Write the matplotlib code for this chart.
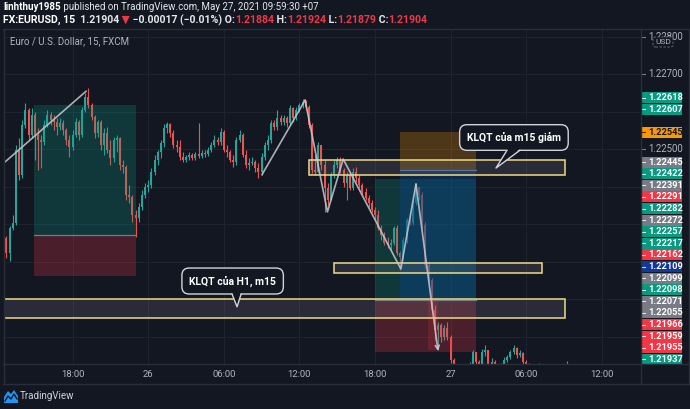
import numpy as np
import matplotlib.pyplot as plt
from matplotlib.patches import Rectangle, Polygon, FancyBboxPatch
from matplotlib.lines import Line2D
from matplotlib.transforms import blended_transform_factory

plt.rcParams['font.family'] = ['Liberation Sans Narrow', 'Roboto', 'DejaVu Sans']

# EURUSD 15 min candles, bar 0 = 18:00 on the 25th
# prices are in 1e-5 above 1.21000
first_open = 1263
closes = [1223, 1290, 1303, 1498, 1431, 1565, 1605, 1538, 1591, 1538,
          1525, 1519, 1565, 1591, 1578, 1573, 1559, 1570, 1551, 1525,
          1506, 1538, 1573, 1538, 1605, 1639, 1618, 1586, 1543, 1573,
          1511, 1543, 1498, 1477, 1525, 1530, 1458, 1453, 1378, 1373,
          1325, 1317, 1346, 1378, 1399, 1405, 1439, 1471, 1493, 1517,
          1557, 1567, 1543, 1511, 1506, 1479, 1471, 1479, 1485, 1477,
          1487, 1482, 1490, 1487, 1498, 1511, 1525, 1519, 1546, 1498,
          1493, 1471, 1466, 1525, 1538, 1485, 1458, 1463, 1466, 1450,
          1439, 1479, 1511, 1525, 1570, 1559, 1583, 1573, 1583, 1570,
          1610, 1583, 1605, 1618, 1626, 1613, 1565, 1445, 1439, 1511,
          1458, 1397, 1365, 1431, 1458, 1471, 1445, 1410, 1431, 1397,
          1439, 1423, 1405, 1386, 1370, 1357, 1338, 1325, 1290, 1271,
          1250, 1245, 1250, 1290, 1223, 1213, 1258, 1311, 1303, 1357,
          1399, 1378, 1298, 1191, 1151, 1071, 1018, 1031, 999, 1023,
          999, 938, 911, 898, 906, 895, 911, 925, 959, 933,
          922, 959, 965, 927, 933, 917, 917, 922, 938, 946,
          959, 970, 951, 957, 933, 925, 917, 911, 914, 909,
          906, 911, 903, 906, 909, 903, 911, 906, 901, 884,
          904]
highs = [1268, 1295, 1325, 1511, 1530, 1578, 1623, 1610, 1610, 1599,
         1557, 1538, 1578, 1605, 1599, 1591, 1583, 1583, 1578, 1557,
         1538, 1551, 1583, 1578, 1613, 1650, 1663, 1623, 1591, 1578,
         1578, 1557, 1559, 1525, 1533, 1538, 1533, 1471, 1458, 1405,
         1378, 1338, 1357, 1391, 1410, 1418, 1450, 1485, 1498, 1525,
         1567, 1573, 1570, 1551, 1525, 1525, 1493, 1485, 1493, 1490,
         1493, 1570, 1498, 1498, 1506, 1519, 1538, 1533, 1557, 1551,
         1511, 1498, 1485, 1533, 1551, 1543, 1498, 1477, 1479, 1471,
         1463, 1490, 1519, 1538, 1578, 1578, 1605, 1591, 1591, 1589,
         1618, 1613, 1613, 1623, 1634, 1631, 1618, 1570, 1485, 1519,
         1511, 1471, 1410, 1439, 1471, 1479, 1479, 1450, 1439, 1439,
         1450, 1453, 1431, 1410, 1397, 1378, 1365, 1346, 1338, 1298,
         1279, 1266, 1262, 1295, 1298, 1230, 1266, 1318, 1330, 1365,
         1410, 1399, 1386, 1306, 1202, 1157, 1085, 1039, 1037, 1031,
         1039, 1005, 943, 917, 911, 911, 919, 933, 965, 951,
         938, 967, 978, 965, 943, 938, 925, 930, 946, 951,
         965, 978, 973, 965, 959, 938, 930, 925, 922, 929,
         917, 917, 914, 911, 914, 911, 919, 914, 935, 906,
         924]
lows = [1210, 1202, 1285, 1298, 1418, 1423, 1557, 1525, 1530, 1471,
        1445, 1450, 1511, 1559, 1565, 1551, 1538, 1551, 1538, 1511,
        1479, 1498, 1533, 1525, 1533, 1599, 1610, 1578, 1530, 1533,
        1498, 1485, 1490, 1458, 1466, 1493, 1445, 1437, 1365, 1357,
        1306, 1266, 1306, 1338, 1370, 1386, 1397, 1431, 1458, 1477,
        1506, 1543, 1533, 1503, 1493, 1471, 1466, 1466, 1471, 1471,
        1471, 1477, 1477, 1479, 1482, 1493, 1506, 1511, 1511, 1493,
        1479, 1466, 1453, 1458, 1519, 1479, 1450, 1445, 1458, 1439,
        1423, 1431, 1471, 1498, 1517, 1551, 1551, 1565, 1565, 1559,
        1565, 1573, 1578, 1599, 1610, 1605, 1557, 1437, 1431, 1439,
        1445, 1333, 1351, 1365, 1423, 1450, 1437, 1399, 1365, 1391,
        1391, 1413, 1397, 1378, 1365, 1346, 1333, 1311, 1285, 1258,
        1245, 1237, 1231, 1245, 1218, 1178, 1205, 1250, 1298, 1298,
        1351, 1365, 1290, 1183, 1143, 1063, 991, 965, 986, 991,
        991, 930, 898, 885, 890, 885, 890, 906, 922, 922,
        911, 917, 949, 917, 919, 906, 909, 911, 917, 933,
        941, 954, 943, 946, 927, 917, 909, 903, 906, 901,
        898, 901, 895, 898, 901, 898, 901, 898, 895, 880,
        879]
first_bar = -21

tick_bars = [0, 24, 48, 72, 96, 120, 144, 168]
tick_labels = ['18:00', '26', '06:00', '12:00', '18:00', '27', '06:00', '12:00']
grid_prices = [1.220, 1.221, 1.222, 1.223, 1.224, 1.225, 1.226, 1.227, 1.228]
axis_prices = [1.22800, 1.22700, 1.22500]

label_prices = [1.22618, 1.22607, 1.22545, 1.22445, 1.22422, 1.22391, 1.22291,
                1.22282, 1.22272, 1.22257, 1.22217, 1.22162, 1.22109, 1.22099,
                1.22098, 1.22071, 1.22055, 1.21966, 1.21959, 1.21955, 1.21937]
label_kinds = ['up', 'up', 'orange', 'grey', 'up', 'grey', 'down',
               'up', 'grey', 'up', 'up', 'down', 'blue', 'grey',
               'up', 'grey', 'grey', 'down', 'down', 'down', 'up']

# drawings: (start bar, end bar, entry, target, stop)
long_a = (-12.25, 20.1, 1.22272, 1.22618, 1.22162)
long_b = (96.0, 128.0, 1.22099, 1.22422, 1.21959)
short_a = (103.9, 128.0, 1.22445, 1.22098, 1.22545)
stop_box = (112.8, 116.0, 1.21966, 1.22099)
zones = [(75.0, 156.3, 1.22431, 1.22471),
         (83.0, 149.0, 1.22170, 1.22197),
         (-21.7, 156.3, 1.22050, 1.22101)]
trend_a = ([-21.5, 4.3], [1.22466, 1.22655])
trend_b = ([60.1, 73.8], [1.22432, 1.22631])
zigzag_bars = [73.8, 80.9, 85.9, 104.2, 109.0, 116.0]
zigzag_prices = [1.22631, 1.22333, 1.22474, 1.22181, 1.22407, 1.21962]
callout_texts = ['KLQT của m15 giảm', 'KLQT của H1, m15']
callout_at = [(140.1, 1.225315), (50.8, 1.221488)]
callout_base = [(137.9, 142.0), (50.6, 53.5)]
callout_tip = [(134.4, 1.22450), (52.2, 1.22080)]

BG = '#131722'
GRID = '#1f2330'
BORDER = '#2a2e39'
UP = '#26a69a'
DOWN = '#ef5350'
kind_colors = {'up': '#089981', 'down': '#f23645', 'grey': '#787b86',
               'orange': '#ff9800', 'blue': '#12399a'}

W, H = 690, 409
fig = plt.figure(figsize=(W / 100, H / 100), dpi=100, facecolor=BG)


def fx(x):
    return x / W


def fy(y):
    return 1 - y / H


ax = fig.add_axes([fx(4), fy(364), (641 - 4) / W, (364 - 29) / H])
ax.set_facecolor(BG)
ylo, yhi = 1.219275, 1.228208
ax.set_xlim(-21.78, 180.44)
ax.set_ylim(ylo, yhi)
ax.set_xticks(tick_bars)
ax.set_yticks(grid_prices)
ax.tick_params(length=0, labelbottom=False, labelleft=False)
ax.grid(color=GRID, lw=0.8)
for s in ax.spines.values():
    s.set_visible(False)

# candles
c = 1.21 + np.array(closes) / 1e5
h = 1.21 + np.array(highs) / 1e5
l = 1.21 + np.array(lows) / 1e5
o = np.concatenate([[1.21 + first_open / 1e5], c[:-1]])
bars = np.arange(first_bar, first_bar + len(c))
col = np.where(c >= o, UP, DOWN)
ax.vlines(bars, l, h, colors=col, lw=0.8, zorder=2)
body = np.maximum(np.abs(c - o), 0.000012)
ax.bar(bars, body, bottom=np.minimum(o, c), width=0.62, color=col, zorder=2)


def rect(x0, x1, p0, p1, **kw):
    ax.add_patch(Rectangle((x0, min(p0, p1)), x1 - x0, abs(p1 - p0), **kw))


# position tools
for x0, x1, entry, target, stop in [long_a, long_b]:
    rect(x0, x1, entry, target, fc='#089981', alpha=0.25, lw=0, zorder=3)
    rect(x0, x1, entry, stop, fc='#f23645', alpha=0.25, lw=0, zorder=3)
    ax.plot([x0, x1], [entry, entry], color='#787b86', lw=0.9, zorder=3)
x0, x1, entry, target, stop = short_a
rect(x0, x1, entry, stop, fc='#ff9800', alpha=0.25, lw=0, zorder=3)
rect(x0, x1, entry, target, fc='#0b438a', alpha=0.42, lw=0, zorder=3)
ax.plot([x0, x1], [entry, entry], color='#4a6fa5', lw=0.9, zorder=3)
rect(stop_box[0], stop_box[1], stop_box[2], stop_box[3], fc='#f23645', alpha=0.18, lw=0, zorder=3)

# zones
for x0, x1, p0, p1 in zones:
    rect(x0, x1, p0, p1, fc=(0.47, 0.48, 0.53, 0.22), ec='#efdc82', lw=1.1, zorder=4)

# trend lines
line_kw = dict(color='#c8cad0', lw=1.2, alpha=0.85, zorder=5, solid_capstyle='round')
ax.plot(trend_a[0], trend_a[1], **line_kw)
ax.plot(trend_b[0], trend_b[1], **line_kw)
ax.plot(zigzag_bars[:-1], zigzag_prices[:-1], **line_kw)
ax.annotate('', xy=(zigzag_bars[-1], zigzag_prices[-1]),
            xytext=(zigzag_bars[-2], zigzag_prices[-2]),
            arrowprops=dict(arrowstyle='->', color='#c8cad0', lw=1.2, alpha=0.85,
                            shrinkA=0, shrinkB=0, mutation_scale=7), zorder=5)

# callouts
fig.canvas.draw()
renderer = fig.canvas.get_renderer()
for txt, (bx, bp), (b0, b1), (tx, tp) in zip(callout_texts, callout_at, callout_base, callout_tip):
    t = ax.text(bx, bp, txt, ha='center', va='center', color='white', fontsize=7.5,
                fontweight='bold', zorder=7,
                bbox=dict(boxstyle='round,pad=0.7,rounding_size=0.7', fc=BG, ec='#d1d4dc', lw=1))
    fig.canvas.draw()
    bb = t.get_bbox_patch().get_window_extent(renderer)
    bottom = ax.transData.inverted().transform((0, bb.y0))[1]
    ax.add_patch(Polygon([(b0, bottom + 0.00004), (tx, tp), (b1, bottom + 0.00004)],
                         closed=True, fc=BG, ec='none', zorder=8))
    ax.plot([b0, tx, b1], [bottom, tp, bottom], color='#d1d4dc', lw=1, zorder=8)

ax.text(0.009, 0.963, 'Euro / U.S. Dollar, 15, FXCM', transform=ax.transAxes,
        color='#b2b5be', fontsize=7, va='center', ha='left')

# time axis
bt = blended_transform_factory(ax.transData, ax.transAxes)
for b, lab in zip(tick_bars, tick_labels):
    ax.text(b, -0.03, lab, transform=bt, ha='center', va='center', color='#b2b5be',
            fontsize=6.8, clip_on=False)

# price axis
pt = blended_transform_factory(ax.transAxes, ax.transData)
axw = 637.0
for p in axis_prices:
    ax.plot([1.0, 1.0 + 4 / axw], [p, p], transform=pt, color='#787b86', lw=0.8, clip_on=False)
    ax.text(1.0 + 7 / axw, p, f'{p:.5f}', transform=pt, color='#b2b5be', fontsize=6.9,
            va='center', ha='left', clip_on=False)

order = np.argsort(label_prices)[::-1]
pos = np.array(label_prices, dtype=float)[order]
gap = 11.6 / 37500
pos[-1] = max(pos[-1], ylo + 0.000125)
for k in range(len(pos) - 2, -1, -1):
    pos[k] = max(pos[k], pos[k + 1] + gap)
bh = 11 / 37500
for k, idx in enumerate(order):
    kind = label_kinds[idx]
    fc = kind_colors[kind]
    tc = '#131722' if kind == 'orange' else 'white'
    ax.add_patch(Rectangle((1.0, pos[k] - bh / 2), 41 / axw, bh, transform=pt, fc=fc,
                           lw=0, clip_on=False, zorder=10))
    ax.plot([1.0 + 1 / axw, 1.0 + 4 / axw], [pos[k], pos[k]], transform=pt, color=tc,
            lw=0.8, clip_on=False, zorder=11, alpha=0.8)
    ax.text(1.0 + 7 / axw, pos[k], f'{label_prices[idx]:.5f}', transform=pt, color=tc,
            fontsize=6.7, fontweight='bold', va='center', ha='left', clip_on=False, zorder=11)

# USD badge
fig.add_artist(FancyBboxPatch((fx(653), fy(47)), fx(20), 10 / H,
                              boxstyle='round,pad=0,rounding_size=0.004', fc=BG,
                              ec='#5d606b', lw=0.8, ls=(0, (2, 1.5)), transform=fig.transFigure))
fig.text(fx(663), fy(42), 'USD', color='#b2b5be', fontsize=6, ha='center', va='center')

# frame lines
for xs, ys in [([3, 690], [29, 29]), ([3, 690], [364, 364]), ([3, 690], [384, 384]),
               ([4, 4], [29, 384]), ([641, 641], [29, 384]), ([689, 689], [29, 384])]:
    fig.add_artist(Line2D([fx(v) for v in xs], [fy(v) for v in ys], color=BORDER, lw=1))


# header
def text_run(x, y, parts, size):
    for s, color, weight in parts:
        t = fig.text(fx(x), fy(y), s, color=color, fontsize=size, fontweight=weight,
                     va='center', ha='left')
        x += t.get_window_extent(renderer).width


WH = '#e6e8ee'
RD = '#f23645'
text_run(3, 7, [('linhthuy1985', 'white', 'bold'),
                (' published on TradingView.com, May 27, 2021 09:59:30 +07', WH, 'normal')], 7)
text_run(3, 20, [('FX:EURUSD, 15', 'white', 'bold'), ('  1.21904', WH, 'bold'),
                 (' ▼', RD, 'normal'), (' −0.00017 (−0.01%)', WH, 'bold'),
                 (' O:', WH, 'bold'), ('1.21884', RD, 'bold'),
                 (' H:', WH, 'bold'), ('1.21924', RD, 'bold'),
                 (' L:', WH, 'bold'), ('1.21879', RD, 'bold'),
                 (' C:', WH, 'bold'), ('1.21904', RD, 'bold')], 7.6)

# logo
fig.add_artist(Polygon([(fx(4), fy(403)), (fx(4), fy(397)), (fx(8), fy(391)), (fx(11), fy(394)),
                        (fx(14), fy(390)), (fx(18), fy(396)), (fx(18), fy(403))],
                       closed=True, fc='#2196f3', ec='none', transform=fig.transFigure))
fig.add_artist(Line2D([fx(5), fx(8), fx(11), fx(14), fx(17)],
                      [fy(401), fy(396), fy(399), fy(394), fy(399)], color=BG, lw=1))
fig.text(fx(20), fy(396), 'TradingView', color='#d1d4dc', fontsize=7, va='center', ha='left')

fig.savefig('out.png', dpi=100, facecolor=BG)
